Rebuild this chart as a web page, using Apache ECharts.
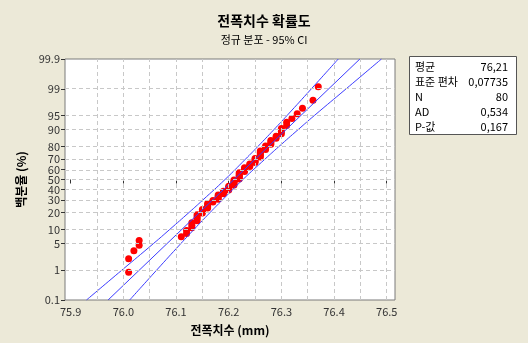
<!DOCTYPE html>
<html><head><meta charset="utf-8">
<script src="https://cdn.jsdelivr.net/npm/echarts@6/dist/echarts.min.js"></script>
<style>html,body{margin:0;padding:0;background:#ECE9D8;}#c{width:528px;height:343px;}</style>
</head><body><div id="c"></div>
<script>
// ---- data ----
const values = [76.01,76.01,76.02,76.03,76.03,76.11,76.12,76.12,76.13,76.13,
76.13,76.14,76.14,76.14,76.14,76.15,76.15,76.15,76.16,76.16,
76.16,76.16,76.17,76.17,76.18,76.18,76.18,76.18,76.19,76.19,
76.19,76.20,76.20,76.20,76.20,76.21,76.21,76.21,76.21,76.21,
76.22,76.22,76.22,76.22,76.22,76.22,76.23,76.23,76.23,76.23,
76.24,76.24,76.24,76.25,76.25,76.25,76.25,76.26,76.26,76.26,
76.26,76.26,76.27,76.27,76.27,76.28,76.28,76.28,76.29,76.29,
76.30,76.30,76.30,76.31,76.31,76.32,76.33,76.34,76.36,76.37];
const percents = [0.87,2.11,3.36,4.60,5.85,7.09,8.33,9.58,10.82,12.06,
13.31,14.55,15.80,17.04,18.28,19.53,20.77,22.01,23.26,24.50,
25.75,26.99,28.23,29.48,30.72,31.97,33.21,34.45,35.70,36.94,
38.18,39.43,40.67,41.92,43.16,44.40,45.65,46.89,48.13,49.38,
50.62,51.87,53.11,54.35,55.60,56.84,58.08,59.33,60.57,61.82,
63.06,64.30,65.55,66.79,68.03,69.28,70.52,71.77,73.01,74.25,
75.50,76.74,77.99,79.23,80.47,81.72,82.96,84.20,85.45,86.69,
87.94,89.18,90.42,91.67,92.91,94.15,95.40,96.64,97.89,99.13];
const fitP = [0.1, 99.9];
const fitX = [75.971, 76.449];
const bandP = [0.1,1,5,10,20,30,50,70,80,90,95,99,99.9];
const bandLow = [75.930,75.997,76.057,76.088,76.125,76.151,76.193,76.232,76.255,76.286,76.311,76.357,76.408];
const bandHigh = [76.012,76.063,76.109,76.134,76.165,76.188,76.227,76.269,76.295,76.332,76.363,76.423,76.490];
const probTicks = [0.1,1,5,10,20,30,40,50,60,70,80,90,95,99,99.9];
const probGrid = [1,5,10,20,30,40,50,60,70,80,90,95,99];
const xTicks = [75.9,76.0,76.1,76.2,76.3,76.4,76.5];
const xGrid = [75.95,76.0,76.05,76.1,76.15,76.2,76.25,76.3,76.35,76.4,76.45,76.5];
const statLabels = ['평균','표준 편차','N','AD','P-값'];
const statValues = ['76,21','0,07735','80','0,534','0,167'];

// probit transform for the probability axis
function probit(pct){
  const p = pct/100;
  const a=[-3.969683028665376e+01,2.209460984245205e+02,-2.759285104469687e+02,1.383577518672690e+02,-3.066479806614716e+01,2.506628277459239e+00];
  const b=[-5.447609879822406e+01,1.615858368580409e+02,-1.556989798598866e+02,6.680131188771972e+01,-1.328068155288572e+01];
  const c=[-7.784894002430293e-03,-3.223964580411365e-01,-2.400758277161838e+00,-2.549732539343734e+00,4.374664141464968e+00,2.938163982698783e+00];
  const d=[7.784695709041462e-03,3.224671290700398e-01,2.445134137142996e+00,3.754408661907416e+00];
  const pl=0.02425, ph=1-pl; let q,r;
  if(p<pl){q=Math.sqrt(-2*Math.log(p));return (((((c[0]*q+c[1])*q+c[2])*q+c[3])*q+c[4])*q+c[5])/((((d[0]*q+d[1])*q+d[2])*q+d[3])*q+1);}
  if(p<=ph){q=p-0.5;r=q*q;return (((((a[0]*r+a[1])*r+a[2])*r+a[3])*r+a[4])*r+a[5])*q/(((((b[0]*r+b[1])*r+b[2])*r+b[3])*r+b[4])*r+1);}
  q=Math.sqrt(-2*Math.log(1-p));return -(((((c[0]*q+c[1])*q+c[2])*q+c[3])*q+c[4])*q+c[5])/((((d[0]*q+d[1])*q+d[2])*q+d[3])*q+1);
}
const zTicks = probTicks.map(probit);
const zMax = probit(99.9);

const font = "'Noto Sans CJK KR','DejaVu Sans',sans-serif";
const gridDash = {color:'#c8c8c8', type:[4,3], width:1};

const chart = echarts.init(document.getElementById('c'), null, {renderer:'canvas'});
const gridLines = xGrid.map(v=>({xAxis:v})).concat(probGrid.map(p=>({yAxis:probit(p)})));

const statText = [];
statLabels.forEach((l,i)=>{
  statText.push({type:'text', left:415, top:61+i*15, style:{text:l, font:"11px "+font, fill:'#000'}});
  statText.push({type:'text', right:20, top:61+i*15, style:{text:statValues[i], font:"11px "+font, fill:'#000', textAlign:'right'}});
});

chart.setOption({
  backgroundColor:'#ECE9D8',
  animation:false,
  textStyle:{fontFamily:font},
  title:{
    text:'전폭치수 확률도', subtext:'정규 분포 - 95% CI', left:'center', top:9, itemGap:6,
    textStyle:{fontSize:14, fontWeight:'bold', color:'#000', fontFamily:font},
    subtextStyle:{fontSize:11, color:'#000', fontFamily:font}
  },
  grid:{left:65, right:133, top:59, bottom:43, show:true, backgroundColor:'#fff', borderColor:'#7a7a7a', borderWidth:1},
  xAxis:{
    type:'value', min:75.8892, max:76.5157,
    name:'전폭치수 (mm)', nameLocation:'middle', nameGap:24,
    nameTextStyle:{fontSize:12, fontWeight:'bold', color:'#000', fontFamily:font},
    axisLine:{show:false},
    axisTick:{show:true, customValues:xTicks, length:4, lineStyle:{color:'#333'}},
    axisLabel:{customValues:xTicks, color:'#333', fontSize:11, margin:6, formatter:v=>v.toFixed(1)},
    splitLine:{show:false}
  },
  yAxis:{
    type:'value', min:-zMax, max:zMax,
    name:'백분율 (%)', nameLocation:'middle', nameGap:34, nameRotate:90,
    nameTextStyle:{fontSize:12, fontWeight:'bold', color:'#000', fontFamily:font},
    axisLine:{show:false},
    axisTick:{show:true, customValues:zTicks, length:4, lineStyle:{color:'#333'}},
    axisLabel:{customValues:zTicks, color:'#333', fontSize:11, margin:5, formatter:function(v){
      let best=0, bd=1e9; zTicks.forEach((z,i)=>{const d=Math.abs(z-v); if(d<bd){bd=d;best=i;}});
      return String(probTicks[best]);
    }},
    splitLine:{show:false}
  },
  graphic:[{type:'rect', left:409, top:56, shape:{width:107, height:78}, style:{fill:'#fff', stroke:'#555', lineWidth:1}}].concat(statText),
  series:[
    {type:'scatter', data:[], silent:true,
     markLine:{silent:true, symbol:'none', label:{show:false}, lineStyle:gridDash, data:gridLines}},
    {type:'line', data:fitX.map((x,i)=>[x, probit(fitP[i])]), showSymbol:false, lineStyle:{color:'#3b3bff', width:1}, silent:true},
    {type:'line', data:bandLow.map((x,i)=>[x, probit(bandP[i])]), smooth:true, showSymbol:false, lineStyle:{color:'#3b3bff', width:1}, silent:true},
    {type:'line', data:bandHigh.map((x,i)=>[x, probit(bandP[i])]), smooth:true, showSymbol:false, lineStyle:{color:'#3b3bff', width:1}, silent:true},
    {type:'scatter', data:values.map((x,i)=>[x, probit(percents[i])]), symbolSize:7, itemStyle:{color:'#ff0000', opacity:1}, silent:true}
  ]
});
</script></body></html>
